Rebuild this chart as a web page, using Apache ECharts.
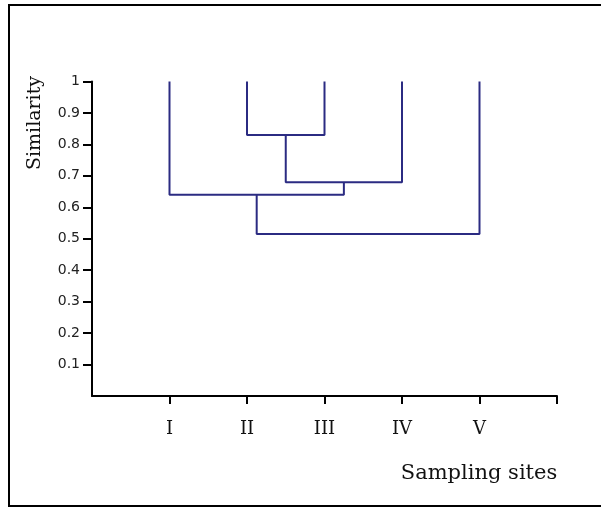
<!DOCTYPE html>
<html>
<head>
<meta charset="utf-8">
<script src="https://cdn.jsdelivr.net/npm/echarts@6/dist/echarts.min.js"></script>
<style>
html,body{margin:0;padding:0;background:#fff;}
#chart{width:601px;height:508px;}
</style>
</head>
<body>
<div id="chart"></div>
<script>
// Leaves (sampling sites) in order along the x axis
var categories = ['I', 'II', 'III', 'IV', 'V'];
// Similarity at which leaves start (top of dendrogram)
var leafSimilarity = 1.0;
// Merge steps: pairs of node indices (0-4 leaves, 5+ clusters made by earlier merges)
var mergePairs = [[1, 2], [5, 3], [0, 6], [7, 4]];
// Similarity level of each merge
var mergeSimilarity = [0.83, 0.68, 0.64, 0.515];
// Y axis tick labels
var yTicks = [0.1, 0.2, 0.3, 0.4, 0.5, 0.6, 0.7, 0.8, 0.9, 1];

var nodeX = categories.map(function (c, i) { return i + 1; });
var nodeY = categories.map(function () { return leafSimilarity; });
var series = [];
mergePairs.forEach(function (p, k) {
  var a = p[0], b = p[1], h = mergeSimilarity[k];
  series.push({
    type: 'line',
    data: [[nodeX[a], nodeY[a]], [nodeX[a], h], [nodeX[b], h], [nodeX[b], nodeY[b]]],
    showSymbol: false,
    symbol: 'none',
    lineStyle: { color: '#2b2b82', width: 2 },
    silent: true,
    animation: false
  });
  nodeX.push((nodeX[a] + nodeX[b]) / 2);
  nodeY.push(h);
});

var chart = echarts.init(document.getElementById('chart'));
chart.setOption({
  animation: false,
  grid: { left: 92, right: 44, top: 81.5, bottom: 112, containLabel: false },
  xAxis: {
    type: 'value', min: 0, max: 6, interval: 1,
    splitLine: { show: false },
    axisLine: { lineStyle: { color: '#000', width: 2 } },
    axisTick: { show: true, length: 8, lineStyle: { color: '#000', width: 2 }, customValues: [1, 2, 3, 4, 5, 6] },
    axisLabel: {
      customValues: [1, 2, 3, 4, 5],
      formatter: function (v) { return categories[Math.round(v) - 1] || ''; },
      color: '#111', fontFamily: 'DejaVu Serif', fontSize: 18, margin: 24
    }
  },
  yAxis: {
    type: 'value', min: 0, max: 1, interval: 0.1,
    splitLine: { show: false },
    axisLine: { lineStyle: { color: '#000', width: 2 } },
    axisTick: { show: true, length: 9, lineStyle: { color: '#000', width: 2 }, customValues: yTicks },
    axisLabel: {
      customValues: yTicks,
      formatter: function (v) { return String(Math.round(v * 10) / 10); },
      color: '#222', fontFamily: 'DejaVu Sans', fontSize: 14, margin: 12
    }
  },
  graphic: [
    { type: 'rect', shape: { x: 9, y: 5, width: 600, height: 501 }, style: { fill: 'none', stroke: '#000', lineWidth: 2 }, silent: true },
    { type: 'text', x: 35, y: 123, rotation: Math.PI / 2, style: { text: 'Similarity', fontFamily: 'DejaVu Serif', fontSize: 19, fill: '#111', align: 'center', verticalAlign: 'middle' } },
    { type: 'text', x: 479, y: 474, style: { text: 'Sampling sites', fontFamily: 'DejaVu Serif', fontSize: 21, fill: '#111', align: 'center', verticalAlign: 'middle' } }
  ],
  series: series
});
</script>
</body>
</html>
